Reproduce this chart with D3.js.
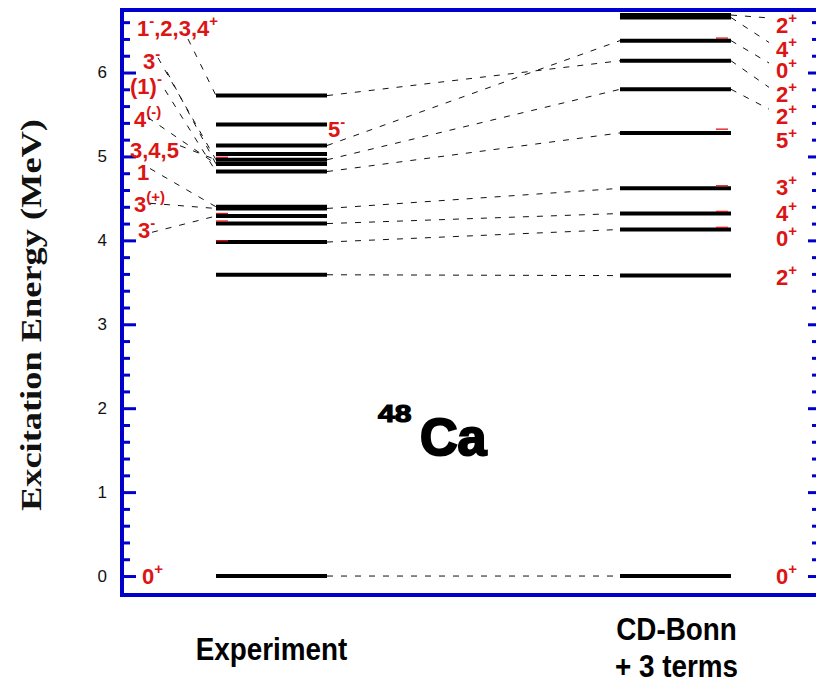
<!DOCTYPE html>
<html><head><meta charset="utf-8">
<script src="https://cdn.jsdelivr.net/npm/d3@7"></script>
<style>body{margin:0;background:#fff}</style></head>
<body>
<svg id="chart" width="816" height="689"></svg>
<script>
// ---------------- data ----------------
const columns = ["Experiment", "CD-Bonn"];
const expLevels = [0, 3.59, 3.98, 4.20, 4.29, 4.38, 4.40, 4.82, 4.91, 4.96, 5.03, 5.13, 5.38, 5.725];
const thLevels  = [0, 3.58, 4.13, 4.32, 4.62, 5.28, 5.80, 6.14, 6.38, 6.655, 6.685];
const expRedMarks = [3.995, 4.23, 4.32, 4.99];
const thRedMarks  = [4.155, 4.345, 4.65, 5.325, 6.41];
// experiment -> theory correspondences
const corrExp = [0, 3.59, 3.98, 4.20, 4.38, 4.82, 4.96, 5.13, 5.725];
const corrTh  = [0, 3.58, 4.13, 4.32, 4.62, 5.28, 5.80, 6.38, 6.14];
// experimental spin labels (left of the levels)
const expLabels = ["1^{-},2,3,4^{+}", "3^{-}", "(1)^{-}", "4^{(-)}", "3,4,5", "1", "3^{(+)}", "3^{-}", "0^{+}"];
const expLabelE = [6.53, 6.14, 5.84, 5.45, 5.08, 4.82, 4.43, 4.12, 0];
// leader lines: label index -> experimental level energy
const expLinkLabel = [0, 1, 2, 2, 3, 4, 5, 6, 7];
const expLinkLevel = [5.725, 4.96, 4.91, 4.82, 4.91, 4.96, 4.40, 4.38, 4.29];
// label on the right of the experimental levels
const expRightLabels = ["5^{-}"];
const expRightLabelE = [5.33];
// theory labels
const thLabels = ["0^{+}", "2^{+}", "0^{+}", "4^{+}", "3^{+}", "5^{+}", "2^{+}", "2^{+}", "0^{+}", "4^{+}", "2^{+}"];
const thLabelE = [0, 3.56, 4.03, 4.33, 4.64, 5.20, 5.48, 5.74, 6.03, 6.275, 6.567];
const thLabelLevel = [0, 3.58, 4.13, 4.32, 4.62, 5.28, 5.80, 6.14, 6.38, 6.655, 6.685];
const thLabelLinked = [false, false, false, false, false, false, true, true, true, true, true];
const majorTicks = [0, 1, 2, 3, 4, 5, 6];
const minorTicks = d3.range(0, 34).map(i => +(i * 0.2).toFixed(1)).filter(v => !majorTicks.includes(v));

// ---------------- layout ----------------
const svg = d3.select("#chart");
const frame = {left: 122, right: 821, top: 10, bottom: 595};
const y = d3.scaleLinear().domain([-0.226, 6.745]).range([frame.bottom, frame.top]);
const x = d3.scalePoint().domain(columns).range([118, 829]).padding(0.38);
const halfW = 55.5;
const blue = "#0000cc", red = "#dc1414";
const expLabelIndent = [15, 21, 8, 12, 8, 15, 12, 16, 20];
const linkDx = [51, 15, 37, 35, 14, 50, 13, 16, 14];
const linkDy = [11, -3, -14, 4, -1, -4, -3, -1, 2];
const LS = 22, SS = 15, SDY = -10;

function rich(textSel, str, supSize, supDy) {
  const parts = str.split(/(\^\{[^}]*\})/).filter(s => s.length);
  let shifted = false;
  parts.forEach(p => {
    if (p.startsWith("^{")) {
      textSel.append("tspan").attr("font-size", supSize).attr("dy", supDy).text(p.slice(2, -1));
      shifted = true;
    } else {
      const t = textSel.append("tspan").text(p);
      if (shifted) { t.attr("dy", -supDy); shifted = false; }
    }
  });
}

// axes ticks
function ticks(g, axisFn, vals, size) {
  g.call(axisFn(y).tickValues(vals).tickSize(size).tickFormat(""));
  g.select(".domain").remove();
  g.selectAll(".tick line").attr("stroke", blue).attr("stroke-width", 3);
}
ticks(svg.append("g").attr("transform", `translate(${frame.left},0)`), d3.axisRight, majorTicks, 14);
ticks(svg.append("g").attr("transform", `translate(${frame.left},0)`), d3.axisRight, minorTicks, 8);
ticks(svg.append("g").attr("transform", `translate(${frame.right},0)`), d3.axisLeft, majorTicks, 13);
ticks(svg.append("g").attr("transform", `translate(${frame.right},0)`), d3.axisLeft, minorTicks, 9);

const lab = svg.append("g").attr("transform", `translate(${frame.left},0)`)
  .call(d3.axisLeft(y).tickValues(majorTicks).tickSize(0).tickPadding(15).tickFormat(d3.format("d")));
lab.select(".domain").remove();
lab.selectAll("text").attr("font-family", "'Liberation Sans', Arial, sans-serif").attr("font-size", 17).attr("fill", "#111");

svg.append("rect").attr("x", frame.left).attr("y", frame.top)
  .attr("width", frame.right - frame.left).attr("height", frame.bottom - frame.top)
  .attr("fill", "none").attr("stroke", blue).attr("stroke-width", 4);

// axis title
svg.append("text").attr("transform", `translate(41,315) rotate(-90)`)
  .attr("text-anchor", "middle").attr("font-family", "'Liberation Serif', 'Times New Roman', serif")
  .attr("font-size", 29).attr("font-weight", "bold").attr("fill", "#111")
  .attr("textLength", 392).attr("lengthAdjust", "spacingAndGlyphs")
  .text("Excitation Energy (MeV)");

const xe0 = x(columns[0]) - halfW, xe1 = x(columns[0]) + halfW;
const xt0 = x(columns[1]) - halfW, xt1 = x(columns[1]) + halfW;
const dash = {stroke: "#111", "stroke-width": 1, "stroke-dasharray": "6,8"};
function dashed(sel) { Object.entries(dash).forEach(([k, v]) => sel.attr(k, v)); return sel; }

// correspondences
dashed(svg.append("g").selectAll("line").data(corrExp).join("line")
  .attr("x1", xe1).attr("y1", d => y(d)).attr("x2", xt0).attr("y2", (d, i) => y(corrTh[i])));

// experimental labels
const labelFont = "'Liberation Sans', Arial, Helvetica, sans-serif";
function redText(xp, yp) {
  return svg.append("text").attr("x", xp).attr("y", yp)
    .attr("font-family", labelFont).attr("font-weight", "bold").attr("font-size", LS).attr("fill", red);
}
expLabels.forEach((s, i) => rich(redText(frame.left + expLabelIndent[i], y(expLabelE[i]) + 8), s, SS, SDY));
dashed(svg.append("g").selectAll("line").data(expLinkLabel).join("line")
  .attr("x1", (d, i) => frame.left + expLabelIndent[d] + linkDx[i])
  .attr("y1", (d, i) => y(expLabelE[d]) + linkDy[i])
  .attr("x2", xe0).attr("y2", (d, i) => y(expLinkLevel[i])));
expRightLabels.forEach((s, i) => rich(redText(xe1 + 1, y(expRightLabelE[i]) + 8), s, SS, SDY));

// theory labels
thLabels.forEach((s, i) => rich(redText(776, y(thLabelE[i]) + 8), s, SS, SDY));
dashed(svg.append("g").selectAll("line").data(thLabelE.filter((d, i) => thLabelLinked[i])).join("line")
  .attr("x1", xt1).attr("y1", d => y(thLabelLevel[thLabelE.indexOf(d)]))
  .attr("x2", 769).attr("y2", d => y(d) - 7));

// levels
svg.append("g").selectAll("line").data(expLevels).join("line")
  .attr("x1", xe0).attr("x2", xe1).attr("y1", d => y(d)).attr("y2", d => y(d))
  .attr("stroke", "#000").attr("stroke-width", 4);
svg.append("g").selectAll("line").data(thLevels).join("line")
  .attr("x1", xt0).attr("x2", xt1).attr("y1", d => y(d)).attr("y2", d => y(d))
  .attr("stroke", "#000").attr("stroke-width", 4);
svg.append("g").selectAll("line").data(expRedMarks).join("line")
  .attr("x1", xe0).attr("x2", xe0 + 12).attr("y1", d => y(d)).attr("y2", d => y(d))
  .attr("stroke", red).attr("stroke-width", 1.3);
svg.append("g").selectAll("line").data(thRedMarks).join("line")
  .attr("x1", xt1 - 15).attr("x2", xt1 - 3).attr("y1", d => y(d)).attr("y2", d => y(d))
  .attr("stroke", red).attr("stroke-width", 1.3);

// nucleus label
svg.append("text").attr("transform", "translate(378,422) scale(1.25,1)").attr("font-family", labelFont)
  .attr("font-weight", "bold").attr("font-size", 24).attr("fill", "#000")
  .attr("stroke", "#000").attr("stroke-width", 1.2).text("48");
svg.append("text").attr("x", 420).attr("y", 455).attr("font-family", labelFont)
  .attr("font-weight", "bold").attr("font-size", 52).attr("fill", "#000")
  .attr("stroke", "#000").attr("stroke-width", 2.2).text("Ca");

// column titles (condensed bold)
function title(cx, yy, txt) {
  svg.append("text").attr("transform", `translate(${cx},${yy}) scale(0.87,1)`).attr("text-anchor", "middle")
    .attr("font-family", labelFont).attr("font-weight", "bold").attr("font-size", 32).attr("fill", "#000").text(txt);
}
title(x(columns[0]), 660, "Experiment");
title(x(columns[1]) + 1, 640, "CD-Bonn");
title(x(columns[1]) + 1, 677, "+ 3 terms");
</script>
</body></html>
